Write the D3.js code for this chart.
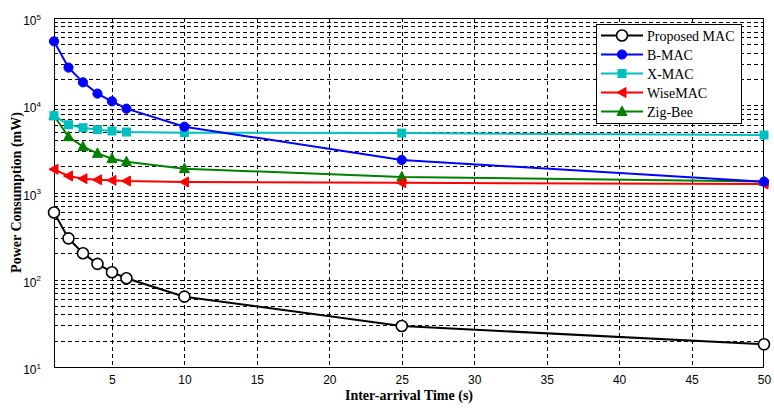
<!DOCTYPE html>
<html><head><meta charset="utf-8">
<script src="https://cdn.jsdelivr.net/npm/d3@7"></script>
<style>body{margin:0;background:#fff}svg{display:block}</style>
</head><body>
<svg id="c" width="774" height="410"></svg>
<script>
const xValues = [1, 2, 3, 4, 5, 6, 10, 25, 50];
const proposedMAC = [590, 298, 201, 152, 122, 104, 64, 29.5, 18.2];
const bMAC = [54000, 27000, 18300, 13600, 11100, 9140, 5680, 2360, 1330];
const xMAC = [7590, 5980, 5530, 5250, 5070, 4930, 4845, 4800, 4560];
const wiseMAC = [1845, 1546, 1440, 1400, 1380, 1355, 1320, 1290, 1250];
const zigBee = [7590, 4360, 3350, 2810, 2440, 2255, 1876, 1506, 1340];
const xTicks = [5, 10, 15, 20, 25, 30, 35, 40, 45, 50];
const yMajorTicks = [10, 100, 1000, 10000, 100000];
const seriesNames = ["Proposed MAC", "B-MAC", "X-MAC", "WiseMAC", "Zig-Bee"];
const seriesColors = ["#000000", "#0000ff", "#00bfbf", "#ff0000", "#008000"];
const seriesMarkers = ["openCircle", "circle", "square", "triLeft", "triUp"];
const seriesValues = [proposedMAC, bMAC, xMAC, wiseMAC, zigBee];

const svg = d3.select("#c");
const L = 54, R = 764, T = 18, B = 367;
const x = d3.scaleLinear().domain([1, 50]).range([L, R]);
const y = d3.scaleLog().domain([10, 100000]).range([B, T]);

// minor + major y grid
const yGrid = [];
for (let e = 1; e < 5; e++) for (let m = 1; m <= 9; m++) yGrid.push(m * Math.pow(10, e));
const g = svg.append("g");
g.selectAll("line.yg").data(yGrid.filter(v => v > 10 && v < 100000)).enter().append("line")
  .attr("x1", L).attr("x2", R).attr("y1", d => Math.round(y(d)) + 0.5).attr("y2", d => Math.round(y(d)) + 0.5)
  .attr("stroke", "#000").attr("stroke-width", 1).attr("stroke-dasharray", "4,3");
g.selectAll("line.xg").data(xTicks.filter(v => v < 50)).enter().append("line")
  .attr("y1", T).attr("y2", B).attr("x1", d => Math.round(x(d)) + 0.5).attr("x2", d => Math.round(x(d)) + 0.5)
  .attr("stroke", "#000").attr("stroke-width", 1).attr("stroke-dasharray", "4,3");

// axes
const xAxis = d3.axisBottom(x).tickValues(xTicks).tickSize(0).tickPadding(8).tickFormat(d3.format("d"));
const xa = svg.append("g").attr("transform", `translate(0,${B})`).call(xAxis);
xa.select(".domain").remove();
xa.selectAll("text").attr("font-family", "Liberation Sans, Arial, sans-serif").attr("font-size", 12).attr("fill", "#000");

const yAxis = d3.axisLeft(y).tickValues(yMajorTicks).tickSize(0).tickPadding(8).tickFormat(() => "");
const ya = svg.append("g").attr("transform", `translate(${L},0)`).call(yAxis);
ya.select(".domain").remove();
ya.selectAll(".tick").each(function(d) {
  const t = d3.select(this).select("text").attr("font-family", "Liberation Sans, Arial, sans-serif").attr("fill", "#000").attr("font-size", 12).attr("x", -13).attr("dy", "0.55em");
  t.append("tspan").text("10");
  t.append("tspan").text(Math.round(Math.log10(d))).attr("font-size", 8).attr("dy", "-0.7em").attr("dx", "0");
});

// frame
svg.append("rect").attr("x", L + 0.5).attr("y", T + 0.5).attr("width", R - L - 1).attr("height", B - T)
  .attr("fill", "none").attr("stroke", "#000").attr("stroke-width", 1);

function drawMarker(sel, type, color, cx, cy) {
  if (type === "openCircle") {
    sel.append("circle").attr("cx", cx).attr("cy", cy).attr("r", 5.5).attr("fill", "#fff").attr("stroke", color).attr("stroke-width", 1.6);
  } else if (type === "circle") {
    sel.append("circle").attr("cx", cx).attr("cy", cy).attr("r", 4.6).attr("fill", color).attr("stroke", color).attr("stroke-width", 1);
  } else if (type === "square") {
    sel.append("rect").attr("x", cx - 4.5).attr("y", cy - 4.5).attr("width", 9).attr("height", 9).attr("fill", color);
  } else if (type === "triLeft") {
    sel.append("path").attr("d", `M${cx - 5},${cy} L${cx + 4},${cy - 5} L${cx + 4},${cy + 5} Z`).attr("fill", color).attr("stroke", color);
  } else if (type === "triUp") {
    sel.append("path").attr("d", `M${cx},${cy - 5.5} L${cx + 5},${cy + 4} L${cx - 5},${cy + 4} Z`).attr("fill", color).attr("stroke", color);
  }
}
const line = d3.line().x(d => x(d[0])).y(d => y(d[1]));
const order = [4, 3, 2, 1, 0];
order.forEach(i => {
  const pts = xValues.map((xv, j) => [xv, seriesValues[i][j]]);
  const sg = svg.append("g");
  sg.append("path").datum(pts).attr("d", line).attr("fill", "none").attr("stroke", seriesColors[i]).attr("stroke-width", 2);
  pts.forEach(p => drawMarker(sg, seriesMarkers[i], seriesColors[i], x(p[0]), y(p[1])));
});

// legend
const lg = svg.append("g");
lg.append("rect").attr("x", 596.5).attr("y", 24.5).attr("width", 145).attr("height", 99).attr("fill", "#fff").attr("stroke", "#000").attr("stroke-width", 1);
seriesNames.forEach((n, i) => {
  const ly = 35.5 + i * 19;
  lg.append("line").attr("x1", 601).attr("x2", 643).attr("y1", ly).attr("y2", ly).attr("stroke", seriesColors[i]).attr("stroke-width", 2);
  drawMarker(lg, seriesMarkers[i], seriesColors[i], 622, ly);
  lg.append("text").attr("x", 647).attr("y", ly + 5).text(n).attr("font-family", "Liberation Serif, Times New Roman, serif").attr("font-size", 14).attr("fill", "#000");
});

// axis labels
svg.append("text").attr("x", (L + R) / 2).attr("y", 400).attr("text-anchor", "middle")
  .attr("font-family", "Liberation Serif, Times New Roman, serif").attr("font-weight", "bold").attr("font-size", 14).text("Inter-arrival Time (s)");
svg.append("text").attr("transform", `translate(21,${(T + B) / 2}) rotate(-90)`).attr("text-anchor", "middle")
  .attr("font-family", "Liberation Serif, Times New Roman, serif").attr("font-weight", "bold").attr("font-size", 14).text("Power Consumption (mW)");
</script>
</body></html>
